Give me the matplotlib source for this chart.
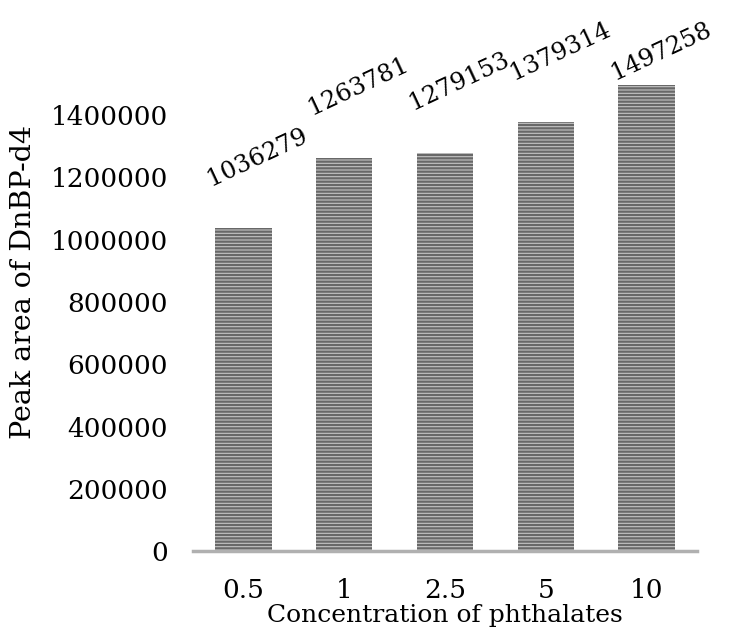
import matplotlib
matplotlib.use("Agg")
import matplotlib.pyplot as plt
import numpy as np

# data
concentrations = ["0.5", "1", "2.5", "5", "10"]
peak_areas = [1036279, 1263781, 1279153, 1379314, 1497258]

plt.rcParams['font.family'] = ['DejaVu Serif']
plt.rcParams['hatch.linewidth'] = 1.6

fig = plt.figure(figsize=(7.48, 6.44), dpi=100)
ax = fig.add_axes([0.258, 0.144, 0.674, 0.774])

x = np.arange(len(concentrations))
ax.bar(x, peak_areas, width=0.56, color="#c4c4c4", edgecolor="#686868",
       linewidth=0, hatch="-----")

# rotated value labels above bars (kept inside the top like excel does)
for xi, v in zip(x, peak_areas):
    ly = min(v + 228000, 1605000)
    ax.text(xi + 0.14, ly, str(v), rotation=25, ha="center", va="center",
            fontsize=17.5, clip_on=False)

ax.set_xlim(-0.5, len(concentrations) - 0.5)
ax.set_ylim(0, 1600000)
ax.set_yticks(np.arange(0, 1400001, 200000))
ax.set_yticklabels([str(t) for t in range(0, 1400001, 200000)])
ax.set_xticks(x)
ax.set_xticklabels(concentrations)
ax.tick_params(axis="y", length=0, pad=18, labelsize=19)
ax.tick_params(axis="x", length=0, pad=19, labelsize=19)

for s in ["top", "right", "left"]:
    ax.spines[s].set_visible(False)
ax.spines["bottom"].set_color("#b0b0b0")
ax.spines["bottom"].set_linewidth(2.5)

ax.set_xlabel("Concentration of phthalates", fontsize=18, labelpad=1)
ax.set_ylabel("Peak area of DnBP-d4", fontsize=20.5)
ax.yaxis.set_label_coords(-0.31, 0.54)

fig.savefig("out.png", dpi=100)
